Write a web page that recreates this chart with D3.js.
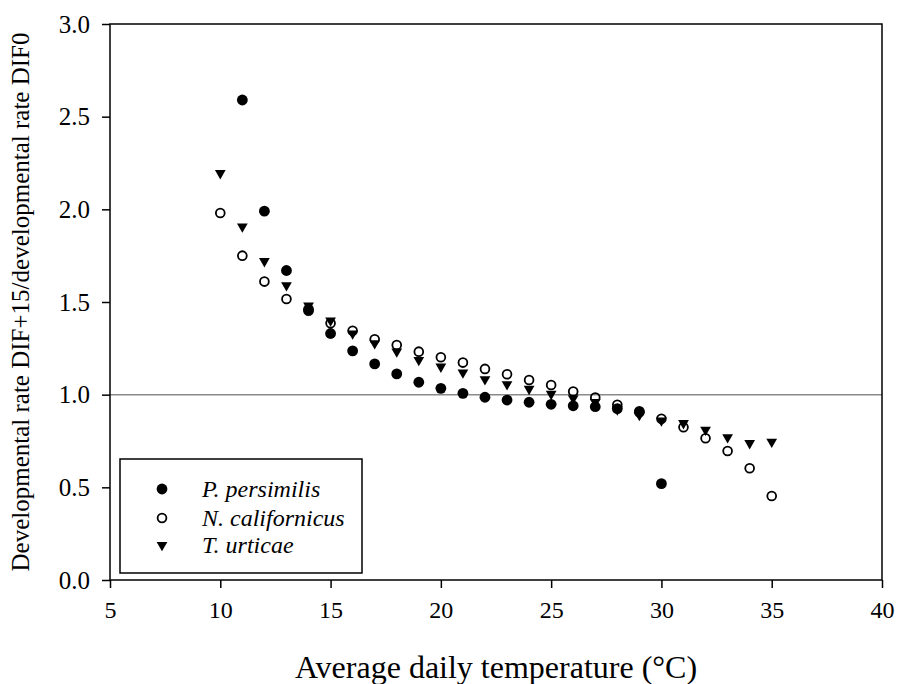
<!DOCTYPE html>
<html>
<head>
<meta charset="utf-8">
<script src="https://cdn.jsdelivr.net/npm/d3@7"></script>
<style>
  body { margin: 0; background: #fff; }
</style>
</head>
<body>
<script>
// temperatures (°C) per series
const persimilisTemp = [11,12,13,14,15,16,17,18,19,20,21,22,23,24,25,26,27,28,29,30];
const persimilisRatio = [2.59,1.99,1.67,1.46,1.33,1.236,1.166,1.112,1.067,1.034,1.007,0.986,0.971,0.959,0.948,0.94,0.935,0.925,0.905,0.52];

const californicusTemp = [10,11,12,13,14,15,16,17,18,19,20,21,22,23,24,25,26,27,28,29,30,31,32,33,34,35];
const californicusRatio = [1.98,1.75,1.61,1.516,1.453,1.385,1.345,1.299,1.268,1.232,1.202,1.173,1.139,1.11,1.079,1.052,1.017,0.985,0.945,0.91,0.87,0.824,0.765,0.696,0.603,0.453];

const urticaeTemp = [10,11,12,13,14,15,16,17,18,19,20,21,22,23,24,25,26,27,28,29,30,31,32,33,34,35];
const urticaeRatio = [2.195,1.907,1.72,1.59,1.48,1.4,1.33,1.277,1.232,1.187,1.151,1.119,1.083,1.056,1.031,1.004,0.98,0.96,0.92,0.89,0.86,0.846,0.81,0.77,0.738,0.746];

const xTicks = [5,10,15,20,25,30,35,40];
const yTicks = [0,0.5,1,1.5,2,2.5,3];
const seriesNames = ["P. persimilis", "N. californicus", "T. urticae"];

const width = 898, height = 684;
const margin = {left: 110, right: 16, top: 24, bottom: 104};
const serif = '"Liberation Serif"';

const svg = d3.select("body").append("svg")
  .attr("width", width)
  .attr("height", height)
  .attr("font-family", serif);

const x = d3.scaleLinear().domain([5, 40]).range([margin.left, width - margin.right]);
const y = d3.scaleLinear().domain([0, 3]).range([height - margin.bottom, margin.top]);

// reference line at ratio 1
svg.append("line")
  .attr("x1", x(5)).attr("x2", x(40))
  .attr("y1", y(1)).attr("y2", y(1))
  .attr("stroke", "#8a8a8a").attr("stroke-width", 1.5);

// axes
const xAxis = svg.append("g")
  .attr("transform", `translate(0,${y(0)})`)
  .call(d3.axisBottom(x).tickValues(xTicks).tickSize(8).tickPadding(10).tickFormat(d3.format("d")));
const yAxis = svg.append("g")
  .attr("transform", `translate(${x(5)},0)`)
  .call(d3.axisLeft(y).tickValues(yTicks).tickSize(8).tickPadding(12).tickFormat(d3.format(".1f")));

[xAxis, yAxis].forEach(g => {
  g.attr("font-family", serif).attr("font-size", 24);
  g.select(".domain").remove();
  g.selectAll(".tick line").attr("stroke", "#000").attr("stroke-width", 1.5);
  g.selectAll(".tick text").attr("font-family", serif).attr("font-size", 24).attr("fill", "#000");
});
xAxis.selectAll(".tick text").attr("dy", "0.85em");
yAxis.selectAll(".tick text").attr("font-size", 25);

// frame
svg.append("rect")
  .attr("x", x(5)).attr("y", y(3))
  .attr("width", x(40) - x(5)).attr("height", y(0) - y(3))
  .attr("fill", "none").attr("stroke", "#000").attr("stroke-width", 1.5);

// markers
const tri = d3.symbol().type(d3.symbolTriangle).size(50);

function drawSeries(temps, vals, kind) {
  const pts = temps.map((t, i) => ({t: t, v: vals[i]}));
  if (kind === "tri") {
    svg.append("g").selectAll("path").data(pts).enter().append("path")
      .attr("d", tri)
      .attr("transform", d => `translate(${x(d.t)},${y(d.v)}) rotate(180)`)
      .attr("fill", "#000");
  } else {
    svg.append("g").selectAll("circle").data(pts).enter().append("circle")
      .attr("cx", d => x(d.t)).attr("cy", d => y(d.v))
      .attr("r", kind === "filled" ? 5.4 : 4.4)
      .attr("fill", kind === "filled" ? "#000" : "none")
      .attr("stroke", "#000")
      .attr("stroke-width", kind === "filled" ? 0 : 1.8);
  }
}
drawSeries(persimilisTemp, persimilisRatio, "filled");
drawSeries(urticaeTemp, urticaeRatio, "tri");
drawSeries(californicusTemp, californicusRatio, "open");

// legend
const legend = svg.append("g");
legend.append("rect")
  .attr("x", 120).attr("y", 459).attr("width", 242).attr("height", 114)
  .attr("fill", "#fff").attr("stroke", "#000").attr("stroke-width", 1.5);
const rowsY = [489, 518, 545];
legend.append("circle").attr("cx", 162).attr("cy", rowsY[0]).attr("r", 5.4).attr("fill", "#000");
legend.append("circle").attr("cx", 162).attr("cy", rowsY[1]).attr("r", 4.4)
  .attr("fill", "none").attr("stroke", "#000").attr("stroke-width", 1.8);
legend.append("path").attr("d", tri)
  .attr("transform", `translate(162,${rowsY[2]}) rotate(180)`).attr("fill", "#000");
legend.selectAll("text.lbl").data(seriesNames).enter().append("text")
  .attr("class", "lbl")
  .attr("x", 202).attr("y", (d, i) => rowsY[i])
  .attr("dy", "0.35em")
  .attr("font-family", serif).attr("font-size", 24).attr("font-style", "italic")
  .text(d => d);

// axis titles
svg.append("text")
  .attr("x", (x(5) + x(40)) / 2).attr("y", 678)
  .attr("text-anchor", "middle")
  .attr("font-family", serif).attr("font-size", 32)
  .text("Average daily temperature (\u00B0C)");

svg.append("text")
  .attr("transform", `translate(29,${(y(0) + y(3)) / 2}) rotate(-90)`)
  .attr("text-anchor", "middle")
  .attr("font-family", serif).attr("font-size", 25)
  .text("Developmental rate DIF+15/developmental rate DIF0");
</script>
</body>
</html>
